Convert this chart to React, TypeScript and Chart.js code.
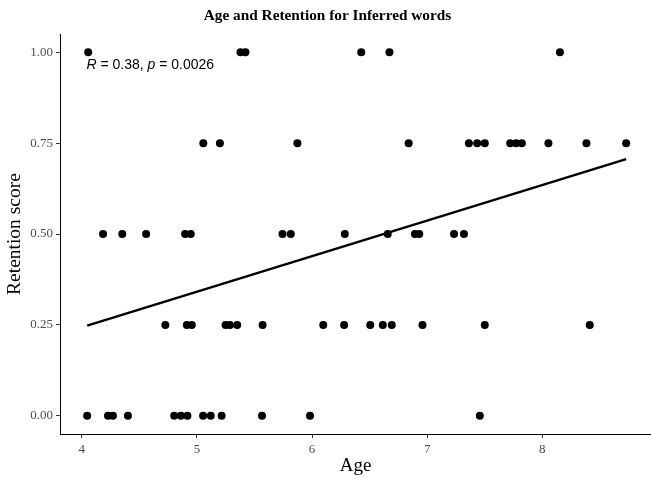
import React, { useEffect, useRef } from "react";
import { Chart, registerables } from "chart.js";

Chart.register(...registerables);

// Retention score groups and the ages
const ageAt100 = [4.055, 5.378, 5.421, 6.427, 6.672, 8.153];
const ageAt075 = [5.055, 5.199, 5.872, 6.839, 7.362, 7.434, 7.5, 7.721, 7.773, 7.822, 8.053, 8.383, 8.728];
const ageAt050 = [4.184, 4.351, 4.558, 4.897, 4.946, 5.743, 5.815, 6.284, 6.657, 6.893, 6.931, 7.233, 7.319];
const ageAt025 = [4.725, 4.912, 4.955, 5.248, 5.286, 5.349, 5.57, 6.097, 6.278, 6.505, 6.614, 6.692, 6.959, 7.5, 8.412];
const ageAt000 = [4.046, 4.227, 4.27, 4.4, 4.802, 4.86, 4.917, 5.053, 5.119, 5.214, 5.565, 5.982, 7.457];

const retentionLevels = [1.0, 0.75, 0.5, 0.25, 0.0];
const agesByLevel = [ageAt100, ageAt075, ageAt050, ageAt025, ageAt000];

// Fitted regression line endpoints
const fitX = [4.046, 8.728];
const fitY = [0.248, 0.706];

const xTicks = [4, 5, 6, 7, 8];
const yTicks = [0, 0.25, 0.5, 0.75, 1];

const corLabelParts = [
  { text: "R", italic: true },
  { text: " = 0.38, ", italic: false },
  { text: "p", italic: true },
  { text: " = 0.0026", italic: false },
];
const corLabelPos = { x: 4.04, y: 0.955 };

const SERIF = '"Liberation Serif", "Times New Roman", serif';
const SANS = '"Liberation Sans", Arial, sans-serif';

export default function App() {
  const ref = useRef<HTMLCanvasElement | null>(null);

  useEffect(() => {
    if (!ref.current) return;
    const points: { x: number; y: number }[] = [];
    retentionLevels.forEach((lvl, i) => {
      agesByLevel[i].forEach((a) => points.push({ x: a, y: lvl }));
    });
    const fit = fitX.map((x, i) => ({ x, y: fitY[i] }));

    const annotation = {
      id: "corLabel",
      afterDatasetsDraw(chart: any) {
        const ctx = chart.ctx;
        const xs = chart.scales.x;
        const ys = chart.scales.y;
        let px = xs.getPixelForValue(corLabelPos.x);
        const py = ys.getPixelForValue(corLabelPos.y);
        ctx.save();
        ctx.fillStyle = "#000";
        ctx.textBaseline = "alphabetic";
        ctx.textAlign = "left";
        corLabelParts.forEach((p) => {
          ctx.font = (p.italic ? "italic " : "") + "14px " + SANS;
          ctx.fillText(p.text, px, py);
          px += ctx.measureText(p.text).width;
        });
        ctx.restore();
      },
    };

    const chart = new Chart(ref.current, {
      type: "scatter",
      data: {
        datasets: [
          {
            type: "line",
            data: fit,
            borderColor: "#000",
            borderWidth: 2.5,
            pointRadius: 0,
            fill: false,
          } as any,
          {
            type: "scatter",
            data: points,
            backgroundColor: "#000",
            borderWidth: 0,
            pointRadius: 4,
            pointHoverRadius: 4,
          },
        ],
      },
      options: {
        animation: false,
        responsive: false,
        devicePixelRatio: 1,
        layout: { padding: 0 },
        plugins: {
          legend: { display: false },
          tooltip: { enabled: false },
          title: {
            display: true,
            text: "Age and Retention for Inferred words",
            color: "#000",
            font: { family: SERIF, size: 15.3, weight: "bold" },
            padding: { top: 6.5, bottom: 9.2 },
          },
        },
        scales: {
          x: {
            type: "linear",
            min: 3.81,
            max: 8.944,
            afterBuildTicks: (s: any) => {
              s.ticks = xTicks.map((v) => ({ value: v }));
            },
            afterFit: (s: any) => {
              s.height = 45;
            },
            border: { color: "#000", width: 1 },
            grid: { display: true, drawOnChartArea: false, drawTicks: true, tickLength: 4, color: "#333" },
            ticks: {
              color: "#4d4d4d",
              font: { family: SERIF, size: 13 },
              padding: 4,
              maxRotation: 0,
              callback: (v: any) => String(v),
            },
            title: {
              display: true,
              text: "Age",
              color: "#000",
              font: { family: SERIF, size: 19 },
              padding: { top: 0, bottom: 1.6 },
            },
          },
          y: {
            type: "linear",
            min: -0.05,
            max: 1.05,
            afterBuildTicks: (s: any) => {
              s.ticks = yTicks.map((v) => ({ value: v }));
            },
            afterFit: (s: any) => {
              s.width = 60;
            },
            border: { color: "#000", width: 1 },
            grid: { display: true, drawOnChartArea: false, drawTicks: true, tickLength: 4, color: "#333" },
            ticks: {
              color: "#4d4d4d",
              font: { family: SERIF, size: 13 },
              padding: 3,
              callback: (v: any) => Number(v).toFixed(2),
            },
            title: {
              display: true,
              text: "Retention score",
              color: "#000",
              font: { family: SERIF, size: 19.5 },
              padding: { top: 3.3, bottom: 0 },
            },
          },
        },
      },
      plugins: [annotation],
    });
    return () => chart.destroy();
  }, []);

  return (
    <div style={{ position: "fixed", left: 0, top: 0, width: 651, height: 479, overflow: "hidden", background: "#fff" }}>
      <canvas ref={ref} width={655} height={479} style={{ display: "block" }} />
    </div>
  );
}
